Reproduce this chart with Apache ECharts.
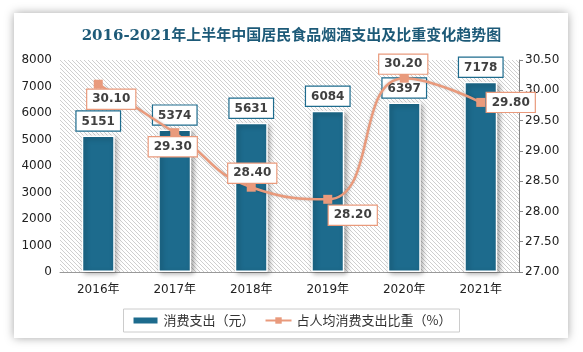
<!DOCTYPE html>
<html lang="zh">
<head>
    <meta charset="UTF-8">
    <title>居民食品烟酒支出</title>
    <script src="https://cdn.jsdelivr.net/npm/echarts@6/dist/echarts.min.js" type="text/javascript"></script>
    <style>
        body{margin:0;background:#fff;}
        .card{position:absolute;left:14px;top:13px;width:554px;height:325px;background:#fff;box-shadow:0 0 9px rgba(0,0,0,.35);}
        #main{position:absolute;left:0;top:0;width:583px;height:352px;}
    </style>
</head>
<body>
<div class="card"></div>
<div id="main"></div>
<script>
    var years = ['2016年', '2017年', '2018年', '2019年', '2020年', '2021年'];
    var spending = [5151, 5374, 5631, 6084, 6397, 7178];
    var ratio = [30.10, 29.30, 28.40, 28.20, 30.20, 29.80];

    //折线标签位置
    var ratioLabelPos = [[13, 15], [-2, 14], [1, -14], [25, 16], [-1, -14], [30, 0]];

    //斜线底纹
    var hatch = document.createElement('canvas');
    hatch.width = 4; hatch.height = 4;
    var ctx = hatch.getContext('2d');
    ctx.fillStyle = '#fff';
    ctx.fillRect(0, 0, 4, 4);
    ctx.strokeStyle = '#cfcfcf';
    ctx.lineWidth = 1;
    ctx.beginPath();
    ctx.moveTo(-1, -1); ctx.lineTo(5, 5);
    ctx.moveTo(-1, 3); ctx.lineTo(1, 5);
    ctx.moveTo(3, -1); ctx.lineTo(5, 1);
    ctx.stroke();

    var teal = '#1d6b8d';
    var salmon = '#e99a7c';

    var option = {
        animation: false,
        title: {
            text: '2016-2021年上半年中国居民食品烟酒支出及比重变化趋势图',
            left: 'center',
            top: 24,
            textStyle: {
                color: '#1d5a78',
                fontSize: 15,
                fontWeight: 'bold',
                fontFamily: 'DejaVu Serif, Noto Sans CJK SC'
            }
        },
        grid: {
            left: 60, right: 64, top: 60, bottom: 80,
            show: true,
            borderWidth: 0,
            backgroundColor: {image: hatch, repeat: 'repeat'}
        },
        legend: {
            bottom: 20,
            left: 'center',
            borderColor: '#cccccc',
            borderWidth: 1,
            padding: [5, 8],
            itemGap: 10,
            itemWidth: 26,
            itemHeight: 8,
            textStyle: {color: '#333', fontSize: 13, fontFamily: 'Noto Sans CJK SC'},
            data: [
                {name: '消费支出（元）', icon: 'rect'},
                {name: '占人均消费支出比重（%）'}
            ]
        },
        xAxis: {
            type: 'category',
            data: years,
            axisLine: {lineStyle: {color: '#999'}},
            axisTick: {show: false},
            axisLabel: {color: '#222', fontSize: 12, margin: 12, fontFamily: 'DejaVu Sans, Noto Sans CJK SC'}
        },
        yAxis: [
            {
                type: 'value',
                min: 0, max: 8000, interval: 1000,
                axisLine: {show: false},
                axisTick: {show: false},
                splitLine: {show: false},
                axisLabel: {
                    color: '#222', fontSize: 12, margin: 8, fontFamily: 'DejaVu Sans',
                    formatter: function (v) { return String(v); }
                }
            },
            {
                type: 'value',
                min: 27, max: 30.5, interval: 0.5,
                position: 'right',
                axisLine: {show: true, lineStyle: {color: '#888'}},
                axisTick: {show: true, inside: false, length: 4, lineStyle: {color: '#888'}},
                splitLine: {show: false},
                axisLabel: {
                    color: '#222', fontSize: 12, margin: 6, fontFamily: 'DejaVu Sans',
                    formatter: function (v) { return v.toFixed(2); }
                }
            }
        ],
        series: [
            {
                name: '消费支出（元）',
                type: 'bar',
                barWidth: 33,
                data: spending,
                itemStyle: {
                    color: teal,
                    borderColor: '#fff',
                    borderWidth: 1.5,
                    shadowColor: 'rgba(0,0,0,0.35)',
                    shadowBlur: 5,
                    shadowOffsetX: 2,
                    shadowOffsetY: 2
                },
                label: {
                    show: true,
                    position: 'top',
                    distance: 5,
                    color: '#404040',
                    fontSize: 12,
                    fontWeight: 'bold',
                    fontFamily: 'DejaVu Sans',
                    backgroundColor: '#fff',
                    borderColor: teal,
                    borderWidth: 1.2,
                    padding: [4, 5, 3, 5]
                }
            },
            {
                name: '占人均消费支出比重（%）',
                type: 'line',
                yAxisIndex: 1,
                smooth: true,
                symbol: 'rect',
                symbolSize: 9,
                z: 5,
                lineStyle: {color: salmon, width: 2.5, shadowColor: 'rgba(0,0,0,0.2)', shadowBlur: 3},
                itemStyle: {color: salmon},
                data: ratio.map(function (v, i) {
                    return {
                        value: v,
                        label: {offset: ratioLabelPos[i]}
                    };
                }),
                label: {
                    show: true,
                    position: 'inside',
                    formatter: function (p) { return p.value.toFixed(2); },
                    color: '#404040',
                    fontSize: 12,
                    fontWeight: 'bold',
                    fontFamily: 'DejaVu Sans',
                    backgroundColor: '#fff',
                    borderColor: salmon,
                    borderWidth: 1.2,
                    padding: [4, 5, 3, 5]
                }
            }
        ]
    };

    var chart = echarts.init(document.getElementById('main'));
    chart.setOption(option);
</script>
</body>
</html>
